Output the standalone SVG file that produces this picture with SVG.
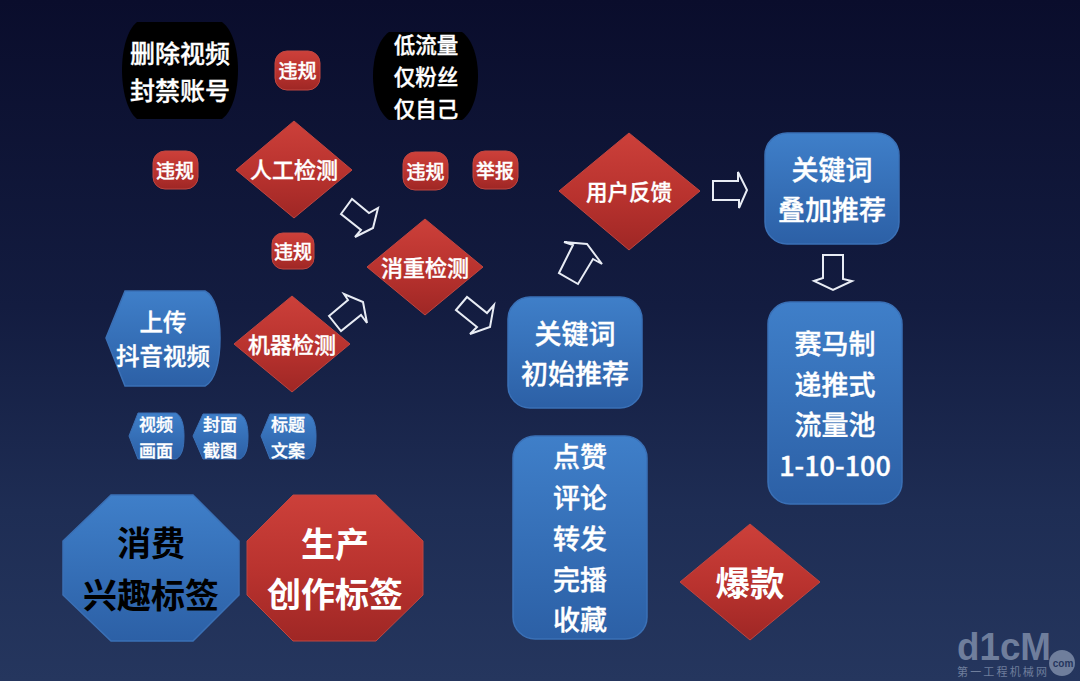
<svg xmlns="http://www.w3.org/2000/svg" width="1080" height="681" viewBox="0 0 1080 681">
<defs>
<linearGradient id="bg" x1="0" y1="0" x2="0" y2="1"><stop offset="0" stop-color="#0a0d2c"/><stop offset="0.45" stop-color="#131c40"/><stop offset="0.75" stop-color="#1e2d54"/><stop offset="1" stop-color="#25365e"/></linearGradient>
<linearGradient id="red" x1="0" y1="0" x2="0" y2="1"><stop offset="0" stop-color="#cc403a"/><stop offset="0.55" stop-color="#b8322e"/><stop offset="1" stop-color="#9f2725"/></linearGradient>
<linearGradient id="blue" x1="0" y1="0" x2="0" y2="1"><stop offset="0" stop-color="#3f7fc9"/><stop offset="1" stop-color="#2c60a6"/></linearGradient>
</defs>
<style>
text{font-family:"Noto Sans CJK SC","Noto Sans",sans-serif;font-weight:500;fill:#fff;text-anchor:middle;stroke:#fff;stroke-width:.35px}
.r{fill:url(#red);stroke:#bf4640;stroke-width:1}
.b{fill:url(#blue);stroke:#3a70b6;stroke-width:1.500}
.k{fill:#000}
.a{fill:none;stroke:#e8ecf4;stroke-width:2;stroke-linejoin:miter}
.t15{font-size:17px}.t18{font-size:19px}.t21{font-size:21.500px}.t22{font-size:22px}.t24{font-size:23.500px}.t25{font-size:25px}.t27{font-size:27px}.t33{font-size:34px}.t34{font-size:34.500px}
.bold{font-weight:700;stroke:none}
.wm{fill:#6f7e9c}
.wmt{stroke:none;fill:#6f7e9c}
</style>
<rect width="1080" height="681" fill="url(#bg)"/>
<g id="connectors">
<polygon class="a" points="341,214 352,199 369,213 378,208 373,228 355,237 361,230"/>
<polygon class="a" points="329,316 348,300 344,294 363,302 367,323 361,315 341,331"/>
<polygon class="a" points="456,310 467,297 487,313 494,305 490,327 470,334 477,327"/>
<polygon class="a" points="559,273 573,245 564,242 587,244 602,264 593,259 578,284"/>
<polygon class="a" points="713,181 738,181 738,172 747,190 739,208 739,200 713,200"/>
<polygon class="a" points="823,255 843,255 843,279 852,281 833,290 814,281 823,278"/>
</g>
<g id="black-1"><path class="k" d="M137 22 L222 22 C233 30 238 50 238 70 C238 90 233 111 222 119 L137 119 C127 111 122 90 122 70 C122 50 127 30 137 22 Z"/>
<text class="t25"><tspan x="180" y="63">删除视频</tspan><tspan x="180" y="100">封禁账号</tspan></text></g>
<g id="black-2"><path class="k" d="M389 32 L462 32 C473 40 478 58 478 76 C478 94 473 112 462 120 L389 120 C378 112 373 94 373 76 C373 58 378 40 389 32 Z"/>
<text class="t21"><tspan x="426" y="53">低流量</tspan><tspan x="426" y="85">仅粉丝</tspan><tspan x="426" y="117">仅自己</tspan></text></g>
<g id="weigui-1"><rect class="r" x="275" y="51" width="45" height="39" rx="12"/><text class="t18" x="297.500" y="78">违规</text></g>
<g id="weigui-2"><rect class="r" x="153" y="151" width="45" height="38" rx="12"/><text class="t18" x="175" y="178">违规</text></g>
<g id="weigui-3"><rect class="r" x="403" y="152" width="45" height="38" rx="12"/><text class="t18" x="425.500" y="179">违规</text></g>
<g id="jubao"><rect class="r" x="473" y="151" width="45" height="38" rx="12"/><text class="t18" x="495" y="178">举报</text></g>
<g id="weigui-4"><rect class="r" x="272" y="233" width="42" height="36" rx="11"/><text class="t18" x="293" y="259">违规</text></g>
<g id="human"><polygon class="r" points="294,121 352,170 294,218 236,170"/><text class="t22" x="294" y="178">人工检测</text></g>
<g id="dedupe"><polygon class="r" points="425,219 483,267 425,315 367,267"/><text class="t22" x="425" y="276">消重检测</text></g>
<g id="machine"><polygon class="r" points="292,296 350,344 292,392 234,344"/><text class="t22" x="292" y="353">机器检测</text></g>
<g id="feedback"><polygon class="r" points="629,133 700,191 629,250 559,191"/><text class="t21" x="629" y="200">用户反馈</text></g>
<g id="upload"><path class="b" d="M125 291 L205 291 C215 296 220 314 220 338 C220 362 215 381 205 386 L125 386 L106 338 Z"/>
<text class="t24"><tspan x="163" y="331">上传</tspan><tspan x="163" y="365">抖音视频</tspan></text></g>
<g id="video"><path class="b" style="stroke-width:1" d="M138 413 L176 413 C182 416 184 426 184 436 C184 448 182 456 176 459 L138 459 L129 436 Z"/>
<text class="t15"><tspan x="156" y="431">视频</tspan><tspan x="156" y="457">画面</tspan></text></g>
<g id="cover"><path class="b" style="stroke-width:1" d="M203 414 L240 414 C246 417 248 426 248 436 C248 448 246 456 240 459 L203 459 L193 436 Z"/>
<text class="t15"><tspan x="220" y="431">封面</tspan><tspan x="220" y="457">截图</tspan></text></g>
<g id="title"><path class="b" style="stroke-width:1" d="M270 414 L308 414 C314 417 316 426 316 436 C316 448 314 456 308 459 L270 459 L261 436 Z"/>
<text class="t15"><tspan x="288" y="431">标题</tspan><tspan x="288" y="457">文案</tspan></text></g>
<g id="consume"><polygon class="b" points="111,495 193,495 239,541 239,595 193,641 111,641 63,595 63,541"/>
<text class="t33 bold" style="fill:#000"><tspan x="151" y="556">消费</tspan><tspan x="151" y="608">兴趣标签</tspan></text></g>
<g id="produce"><polygon class="r" points="293,495 376,495 423,541 423,595 376,641 293,641 247,595 247,541"/>
<text class="t33 bold"><tspan x="335" y="557">生产</tspan><tspan x="335" y="607">创作标签</tspan></text></g>
<g id="kw-init"><rect class="b" x="508" y="297" width="134" height="111" rx="22"/>
<text class="t27"><tspan x="575" y="344">关键词</tspan><tspan x="575" y="384">初始推荐</tspan></text></g>
<g id="kw-stack"><rect class="b" x="765" y="133" width="134" height="111" rx="22"/>
<text class="t27"><tspan x="832" y="180">关键词</tspan><tspan x="832" y="220">叠加推荐</tspan></text></g>
<g id="race"><rect class="b" x="768" y="302" width="134" height="202" rx="22"/>
<text class="t27"><tspan x="835" y="354">赛马制</tspan><tspan x="835" y="395">递推式</tspan><tspan x="835" y="435">流量池</tspan><tspan x="835" y="476">1-10-100</tspan></text></g>
<g id="actions"><rect class="b" x="513" y="436" width="134" height="203" rx="22"/>
<text class="t27"><tspan x="580" y="467">点赞</tspan><tspan x="580" y="508">评论</tspan><tspan x="580" y="549">转发</tspan><tspan x="580" y="590">完播</tspan><tspan x="580" y="630">收藏</tspan></text></g>
<g id="hit"><polygon class="r" points="750,524 820,582 750,640 680,582"/><text class="t34 bold" x="750" y="596">爆款</text></g>
<g id="watermark">
<text class="wmt" x="1004" y="660" textLength="94" lengthAdjust="spacingAndGlyphs" style="font-family:'Liberation Sans',sans-serif;font-size:38px;font-weight:700">d1cM</text>
<text class="wmt" x="1002" y="676" textLength="90" style="font-size:11px;font-weight:400">第一工程机械网</text>
<circle class="wm" cx="1062" cy="663" r="13"/>
<text x="1063" y="667" style="font-family:'Liberation Sans',sans-serif;font-size:10px;fill:#25365e;stroke:none;font-weight:700">com</text>
</g>
</svg>
